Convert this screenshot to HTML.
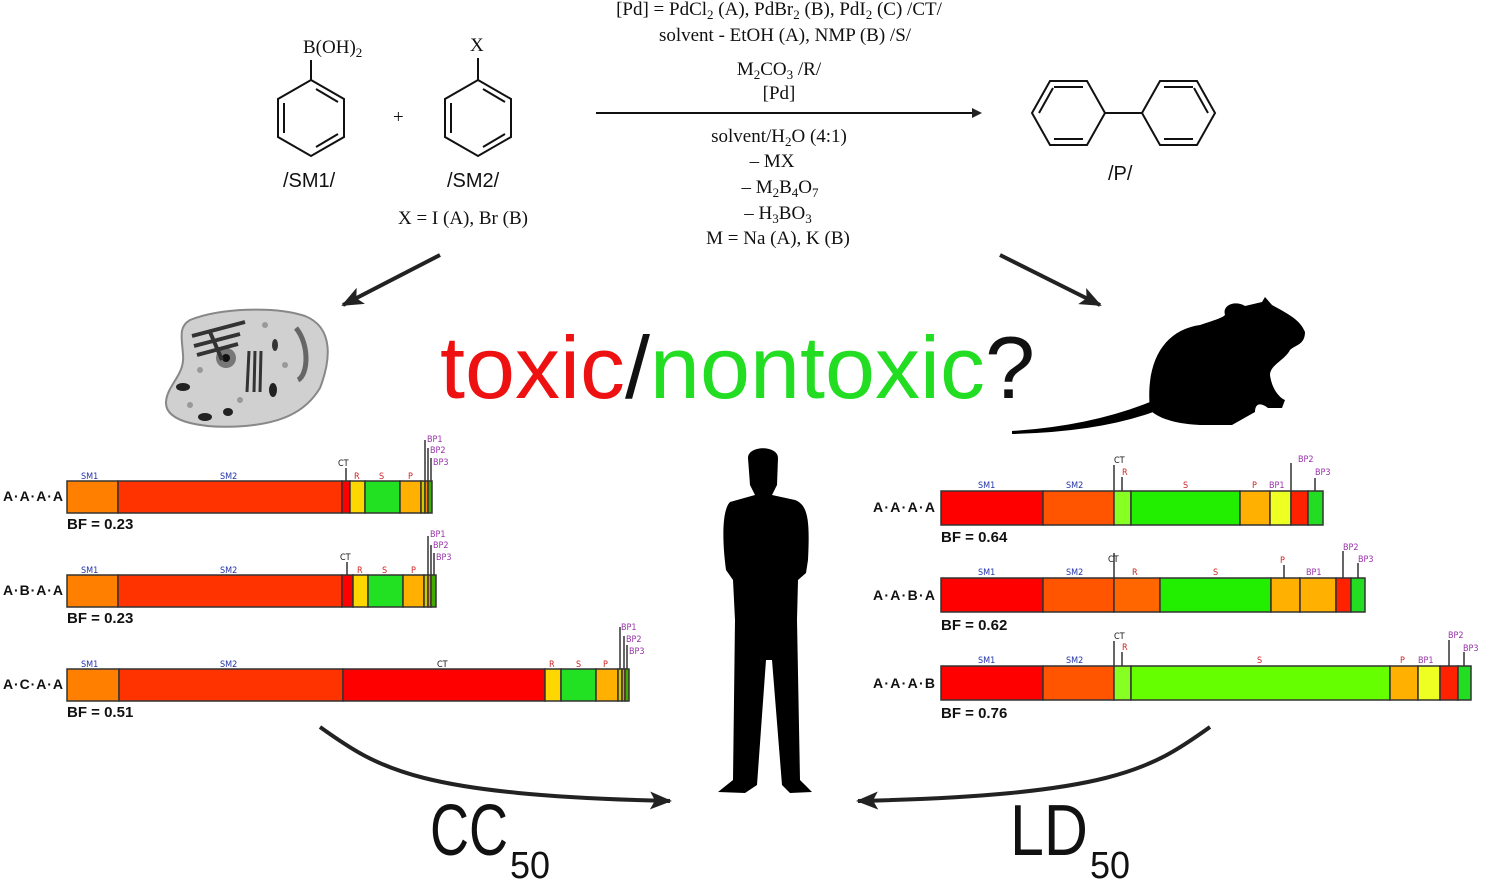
<!DOCTYPE html>
<html><head><meta charset="utf-8"><style>
html,body{margin:0;padding:0;background:#fff;}
svg{display:block}
.s{font-family:"Liberation Serif",serif;font-size:19px;fill:#111}
.a{font-family:"Liberation Sans",sans-serif}
.lb{font-family:"DejaVu Sans Condensed","Liberation Sans",sans-serif;font-size:9px}
</style></head><body>
<svg width="1495" height="886" viewBox="0 0 1495 886" xmlns="http://www.w3.org/2000/svg">
<defs>
<marker id="ah" markerWidth="10" markerHeight="10" refX="8" refY="5" orient="auto" markerUnits="userSpaceOnUse"><path d="M0,0 L10,5 L0,10 Z" fill="#222"/></marker>
<marker id="ah2" markerWidth="22" markerHeight="18" refX="20" refY="9" orient="auto" markerUnits="userSpaceOnUse"><path d="M0,0 L22,9 L0,18 L5,9 Z" fill="#222"/></marker>
</defs>
<g fill="none" stroke="#111" stroke-width="2">
<polygon points="311,80 344,99 344,137 311,156 278,137 278,99"/>
<line x1="311" y1="80" x2="311" y2="60"/>
<line x1="316" y1="89" x2="338" y2="102"/><line x1="338" y1="134" x2="316" y2="147"/><line x1="284" y1="133" x2="284" y2="103"/>
<polygon points="478,80 511,99 511,137 478,156 445,137 445,99"/>
<line x1="478" y1="80" x2="478" y2="58"/>
<line x1="483" y1="89" x2="505" y2="102"/><line x1="505" y1="134" x2="483" y2="147"/><line x1="451" y1="133" x2="451" y2="103"/>
<polygon points="1032,113 1050,81 1087,81 1105,113 1087,145 1050,145"/>
<polygon points="1142,113 1160,81 1197,81 1215,113 1197,145 1160,145"/>
<line x1="1105" y1="113" x2="1142" y2="113"/>
<line x1="1054" y1="87" x2="1083" y2="87"/><line x1="1054" y1="139" x2="1083" y2="139"/><line x1="1039" y1="113" x2="1053" y2="88"/>
<line x1="1164" y1="87" x2="1193" y2="87"/><line x1="1164" y1="139" x2="1193" y2="139"/><line x1="1208" y1="113" x2="1194" y2="88"/>
</g>
<text class="s" x="303" y="53" font-size="20">B(OH)<tspan font-size="13" dy="4">2</tspan></text>
<text class="s" x="470" y="51" font-size="20">X</text>
<text class="s" x="393" y="123">+</text>
<text class="a" x="283" y="187" font-size="20" fill="#111">/SM1/</text>
<text class="a" x="447" y="187" font-size="20" fill="#111">/SM2/</text>
<text class="s" x="398" y="224" font-size="22">X = I (A), Br (B)</text>
<text class="a" x="1108" y="180" font-size="20" fill="#111">/P/</text>
<g class="s" text-anchor="middle" font-size="20">
<text x="779" y="15">[Pd] = PdCl<tspan font-size="13" dy="4">2</tspan><tspan dy="-4"> (A), PdBr</tspan><tspan font-size="13" dy="4">2</tspan><tspan dy="-4"> (B), PdI</tspan><tspan font-size="13" dy="4">2</tspan><tspan dy="-4"> (C) /CT/</tspan></text>
<text x="785" y="41">solvent - EtOH (A), NMP (B) /S/</text>
<text x="779" y="75">M<tspan font-size="13" dy="4">2</tspan><tspan dy="-4">CO</tspan><tspan font-size="13" dy="4">3</tspan><tspan dy="-4"> /R/</tspan></text>
<text x="779" y="99">[Pd]</text>
<text x="779" y="142">solvent/H<tspan font-size="13" dy="4">2</tspan><tspan dy="-4">O (4:1)</tspan></text>
<text x="772" y="167">– MX</text>
<text x="780" y="193">– M<tspan font-size="13" dy="4">2</tspan><tspan dy="-4">B</tspan><tspan font-size="13" dy="4">4</tspan><tspan dy="-4">O</tspan><tspan font-size="13" dy="4">7</tspan></text>
<text x="778" y="219">– H<tspan font-size="13" dy="4">3</tspan><tspan dy="-4">BO</tspan><tspan font-size="13" dy="4">3</tspan></text>
<text x="778" y="244">M = Na (A), K (B)</text>
</g>
<line x1="596" y1="113" x2="980" y2="113" stroke="#111" stroke-width="2" marker-end="url(#ah)"/>
<line x1="440" y1="255" x2="343" y2="305" stroke="#222" stroke-width="4" marker-end="url(#ah2)"/>
<line x1="1000" y1="255" x2="1100" y2="305" stroke="#222" stroke-width="4" marker-end="url(#ah2)"/>
<path d="M320,727 C380,770 420,795 670,801" fill="none" stroke="#222" stroke-width="4" marker-end="url(#ah2)"/>
<path d="M1210,727 C1150,770 1110,795 858,801" fill="none" stroke="#222" stroke-width="4" marker-end="url(#ah2)"/>
<g>
<path d="M190,320 C220,308 275,306 305,316 C335,328 330,362 320,388 C305,413 280,423 245,426 C205,429 165,423 166,402 C167,385 185,375 183,355 C182,338 178,327 190,320 Z" fill="#d0d0d0" stroke="#888" stroke-width="2"/>
<circle cx="226" cy="358" r="10" fill="#777"/><circle cx="226" cy="358" r="4" fill="#111"/>
<path d="M192,336 L245,322 M194,346 L240,334 M197,355 L238,344 M210,332 L222,360" stroke="#333" stroke-width="4"/>
<path d="M249,351 L247,392 M255,351 L254,392 M261,351 L260,392" stroke="#333" stroke-width="3"/>
<path d="M296,328 C310,345 308,375 298,380" stroke="#666" stroke-width="5" fill="none"/>
<ellipse cx="183" cy="387" rx="7" ry="4" fill="#222"/><ellipse cx="273" cy="390" rx="4" ry="7" fill="#222"/><ellipse cx="228" cy="412" rx="5" ry="4" fill="#222"/><ellipse cx="275" cy="345" rx="3" ry="6" fill="#333"/><ellipse cx="205" cy="417" rx="7" ry="4" fill="#222"/>
<g fill="#999"><circle cx="200" cy="370" r="3"/><circle cx="190" cy="405" r="3"/><circle cx="285" cy="365" r="3"/><circle cx="240" cy="400" r="3"/><circle cx="265" cy="325" r="3"/></g>
</g>
<path d="M1012,431 Q1090,426 1150,402 L1156,411 Q1100,432 1012,434 Z" fill="#000"/>
<path d="M1150,410 C1145,360 1165,330 1200,325 C1215,320 1222,318 1225,315 C1222,305 1235,300 1245,306 L1262,302 L1265,297 L1272,305 C1290,315 1300,320 1305,332 C1305,345 1295,345 1290,350 C1285,360 1270,365 1270,375 C1272,390 1280,398 1285,400 L1282,408 L1268,408 C1262,403 1255,402 1255,412 L1232,425 L1200,425 C1180,424 1160,420 1150,410 Z" fill="#000"/>
<path d="M748,458 C748,445 778,445 778,458 L777,485 L772,495 L795,500 C808,505 810,520 808,560 L806,573 L798,580 L797,620 L800,780 L812,792 L790,793 L782,785 L772,660 L766,660 L757,785 L745,793 L718,792 L733,780 L735,620 L733,580 L726,570 C722,540 722,510 730,502 L755,495 L750,485 Z" fill="#000"/>
<text class="a" x="440" y="398" font-size="88" textLength="595" lengthAdjust="spacingAndGlyphs"><tspan fill="#ee1111">toxic</tspan><tspan fill="#111">/</tspan><tspan fill="#22dd22">nontoxic</tspan><tspan fill="#111">?</tspan></text>
<text class="a" x="430" y="855" font-size="72" fill="#111" textLength="78" lengthAdjust="spacingAndGlyphs">CC</text>
<text class="a" x="510" y="878" font-size="38" fill="#111" textLength="40" lengthAdjust="spacingAndGlyphs">50</text>
<text class="a" x="1010" y="855" font-size="72" fill="#111" textLength="78" lengthAdjust="spacingAndGlyphs">LD</text>
<text class="a" x="1090" y="878" font-size="38" fill="#111" textLength="40" lengthAdjust="spacingAndGlyphs">50</text>
<g stroke="#333" stroke-width="1.5">
<g>
<rect x="67" y="481" width="51" height="32" fill="#ff8000"/><rect x="118" y="481" width="224" height="32" fill="#ff3300"/><rect x="342" y="481" width="8" height="32" fill="#ff0000"/><rect x="350" y="481" width="15" height="32" fill="#ffd700"/><rect x="365" y="481" width="35" height="32" fill="#22e022"/><rect x="400" y="481" width="21" height="32" fill="#ffb000"/><rect x="421" y="481" width="4" height="32" fill="#cccc00"/><rect x="425" y="481" width="3" height="32" fill="#ff8800"/><rect x="428" y="481" width="4" height="32" fill="#44aa00"/>
</g>
<g>
<rect x="67" y="575" width="51" height="32" fill="#ff8000"/><rect x="118" y="575" width="224" height="32" fill="#ff3300"/><rect x="342" y="575" width="11" height="32" fill="#ff0000"/><rect x="353" y="575" width="15" height="32" fill="#ffd700"/><rect x="368" y="575" width="35" height="32" fill="#22e022"/><rect x="403" y="575" width="21" height="32" fill="#ffb000"/><rect x="424" y="575" width="4" height="32" fill="#cccc00"/><rect x="428" y="575" width="3" height="32" fill="#ff8800"/><rect x="431" y="575" width="5" height="32" fill="#44aa00"/>
</g>
<g>
<rect x="67" y="669" width="52" height="32" fill="#ff8000"/><rect x="119" y="669" width="224" height="32" fill="#ff3300"/><rect x="343" y="669" width="202" height="32" fill="#ff0000"/><rect x="545" y="669" width="16" height="32" fill="#ffd700"/><rect x="561" y="669" width="35" height="32" fill="#22e022"/><rect x="596" y="669" width="22" height="32" fill="#ffb000"/><rect x="618" y="669" width="4" height="32" fill="#cccc00"/><rect x="622" y="669" width="3" height="32" fill="#ff8800"/><rect x="625" y="669" width="4" height="32" fill="#44aa00"/>
</g>
<g>
<rect x="941" y="491" width="102" height="34" fill="#ff0000"/><rect x="1043" y="491" width="71" height="34" fill="#ff5500"/><rect x="1114" y="491" width="17" height="34" fill="#88ff22"/><rect x="1131" y="491" width="109" height="34" fill="#22ee00"/><rect x="1240" y="491" width="30" height="34" fill="#ffb000"/><rect x="1270" y="491" width="21" height="34" fill="#eeff22"/><rect x="1291" y="491" width="17" height="34" fill="#ff2200"/><rect x="1308" y="491" width="15" height="34" fill="#22dd22"/>
</g>
<g>
<rect x="941" y="578" width="102" height="34" fill="#ff0000"/><rect x="1043" y="578" width="71" height="34" fill="#ff5500"/><rect x="1114" y="578" width="46" height="34" fill="#ff6600"/><rect x="1160" y="578" width="111" height="34" fill="#22ee00"/><rect x="1271" y="578" width="29" height="34" fill="#ffb000"/><rect x="1300" y="578" width="36" height="34" fill="#ffb000"/><rect x="1336" y="578" width="15" height="34" fill="#ff2200"/><rect x="1351" y="578" width="14" height="34" fill="#22dd22"/>
</g>
<g>
<rect x="941" y="666" width="102" height="34" fill="#ff0000"/><rect x="1043" y="666" width="71" height="34" fill="#ff5500"/><rect x="1114" y="666" width="17" height="34" fill="#88ff22"/><rect x="1131" y="666" width="259" height="34" fill="#66ff00"/><rect x="1390" y="666" width="28" height="34" fill="#ffb000"/><rect x="1418" y="666" width="22" height="34" fill="#eeff22"/><rect x="1440" y="666" width="18" height="34" fill="#ff2200"/><rect x="1458" y="666" width="13" height="34" fill="#22dd22"/>
</g>
<path d="M346,481 V468 M425,481 V440 M428,481 V448 M431,481 V458 M347,575 V562 M428,575 V536 M431,575 V545 M434,575 V553 M620,669 V627 M624,669 V636 M627,669 V645
M1114,491 V465 M1122,491 V477 M1291,491 V463 M1315,491 V478 M1114,578 V553 M1284,578 V565 M1343,578 V551 M1358,578 V563 M1114,666 V641 M1122,666 V652 M1449,666 V640 M1464,666 V652" fill="none"/>
</g>
<g class="lb">
<g fill="#2233aa"><text x="81" y="479">SM1</text><text x="220" y="479">SM2</text><text x="81" y="573">SM1</text><text x="220" y="573">SM2</text><text x="81" y="667">SM1</text><text x="220" y="667">SM2</text>
<text x="978" y="488">SM1</text><text x="1066" y="488">SM2</text><text x="978" y="575">SM1</text><text x="1066" y="575">SM2</text><text x="978" y="663">SM1</text><text x="1066" y="663">SM2</text></g>
<g fill="#111"><text x="338" y="466">CT</text><text x="340" y="560">CT</text><text x="437" y="667">CT</text><text x="1114" y="463">CT</text><text x="1108" y="562">CT</text><text x="1114" y="639">CT</text></g>
<g fill="#cc2222"><text x="354" y="479">R</text><text x="379" y="479">S</text><text x="408" y="479">P</text><text x="357" y="573">R</text><text x="382" y="573">S</text><text x="411" y="573">P</text><text x="549" y="667">R</text><text x="576" y="667">S</text><text x="603" y="667">P</text>
<text x="1122" y="475">R</text><text x="1183" y="488">S</text><text x="1252" y="488">P</text><text x="1132" y="575">R</text><text x="1213" y="575">S</text><text x="1280" y="563">P</text><text x="1122" y="650">R</text><text x="1257" y="663">S</text><text x="1400" y="663">P</text></g>
<g fill="#9933aa"><text x="427" y="442">BP1</text><text x="430" y="453">BP2</text><text x="433" y="465">BP3</text><text x="430" y="537">BP1</text><text x="433" y="548">BP2</text><text x="436" y="560">BP3</text><text x="621" y="630">BP1</text><text x="626" y="642">BP2</text><text x="629" y="654">BP3</text>
<text x="1269" y="488">BP1</text><text x="1298" y="462">BP2</text><text x="1315" y="475">BP3</text><text x="1306" y="575">BP1</text><text x="1343" y="550">BP2</text><text x="1358" y="562">BP3</text><text x="1418" y="663">BP1</text><text x="1448" y="638">BP2</text><text x="1463" y="651">BP3</text></g>
</g>
<g class="a" font-size="15" fill="#111" font-weight="bold">
<text x="3" y="501" font-size="14" textLength="60">A·A·A·A</text><text x="3" y="595" font-size="14" textLength="60">A·B·A·A</text><text x="3" y="689" font-size="14" textLength="60">A·C·A·A</text>
<text x="67" y="529">BF = 0.23</text><text x="67" y="623">BF = 0.23</text><text x="67" y="717">BF = 0.51</text>
<text x="873" y="512" font-size="14" textLength="62">A·A·A·A</text><text x="873" y="600" font-size="14" textLength="62">A·A·B·A</text><text x="873" y="688" font-size="14" textLength="62">A·A·A·B</text>
<text x="941" y="542">BF = 0.64</text><text x="941" y="630">BF = 0.62</text><text x="941" y="718">BF = 0.76</text>
</g>
</svg>
</body></html>
